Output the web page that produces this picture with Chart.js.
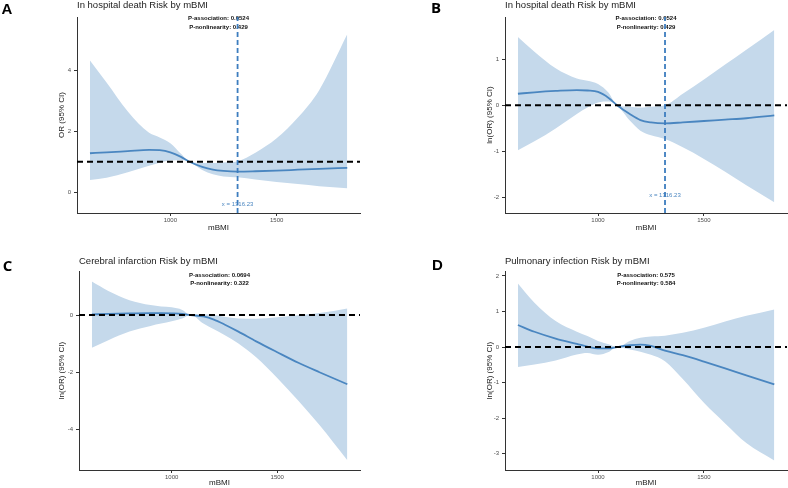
<!DOCTYPE html>
<html>
<head>
<meta charset="utf-8">
<script src="https://cdn.jsdelivr.net/npm/chart.js@4.4.1/dist/chart.umd.min.js"></script>
<style>
  body { margin: 0; background: #fff; }
  .panel { position: absolute; width: 394px; height: 244px; }
</style>
</head>
<body>
<div class="panel" style="left:0;top:0"><canvas id="chartA" width="394" height="244"></canvas></div>
<div class="panel" style="left:394px;top:0"><canvas id="chartB" width="394" height="244"></canvas></div>
<div class="panel" style="left:0;top:244px"><canvas id="chartC" width="394" height="244"></canvas></div>
<div class="panel" style="left:394px;top:244px"><canvas id="chartD" width="394" height="244"></canvas></div>
<script>
// shared x grid (mBMI)
const mbmi = [622, 700, 800, 900, 950, 1000, 1050, 1090, 1150, 1200, 1250, 1316, 1400, 1500, 1600, 1700, 1832];
const xTicks = [1000, 1500];
const xMin = 561;
const xMax = 1892;
const cutX = 1316.23;

// A : in hospital death, OR scale
const estA = [1.28, 1.31, 1.35, 1.39, 1.38, 1.31, 1.16, 1.0, 0.83, 0.74, 0.70, 0.68, 0.69, 0.71, 0.74, 0.77, 0.80];
const upA  = [4.32, 3.60, 2.65, 1.95, 1.80, 1.61, 1.26, 1.0, 0.96, 0.96, 0.98, 1.02, 1.30, 1.77, 2.45, 3.35, 5.18];
const lowA = [0.40, 0.48, 0.66, 0.87, 0.97, 1.04, 1.05, 1.0, 0.73, 0.59, 0.52, 0.49, 0.42, 0.34, 0.27, 0.20, 0.13];
const yTicksA = [0, 2, 4];

// B : in hospital death, ln(OR)
const estB = [0.25, 0.28, 0.31, 0.33, 0.32, 0.29, 0.16, 0, -0.19, -0.32, -0.37, -0.39, -0.37, -0.34, -0.31, -0.28, -0.22];
const upB  = [1.48, 1.16, 0.80, 0.58, 0.53, 0.46, 0.27, 0, -0.03, -0.05, -0.03, 0.0, 0.25, 0.56, 0.88, 1.20, 1.63];
const lowB = [-0.97, -0.78, -0.50, -0.19, -0.05, 0.06, 0.08, 0, -0.33, -0.55, -0.65, -0.73, -0.91, -1.16, -1.44, -1.73, -2.10];
const yTicksB = [-2, -1, 0, 1];

// C : cerebral infarction, ln(OR)
const estC = [0.02, 0.04, 0.06, 0.07, 0.07, 0.06, 0.04, 0, -0.05, -0.16, -0.33, -0.58, -0.92, -1.30, -1.67, -2.00, -2.42];
const upC  = [1.17, 0.84, 0.52, 0.35, 0.30, 0.27, 0.18, 0, 0.03, 0.0, -0.06, -0.12, -0.13, -0.08, -0.01, 0.07, 0.23];
const lowC = [-1.14, -0.88, -0.58, -0.38, -0.30, -0.22, -0.12, 0, -0.30, -0.50, -0.70, -1.00, -1.48, -2.20, -3.00, -3.85, -5.08];
const yTicksC = [-4, -2, 0];

// D : pulmonary infection, ln(OR)
const estD = [0.62, 0.43, 0.24, 0.09, 0.01, -0.04, -0.04, 0, 0.05, 0.07, 0.03, -0.10, -0.23, -0.41, -0.60, -0.80, -1.05];
const upD  = [1.79, 1.25, 0.73, 0.43, 0.31, 0.17, 0.08, 0, 0.17, 0.26, 0.30, 0.32, 0.40, 0.54, 0.72, 0.88, 1.06];
const lowD = [-0.56, -0.49, -0.38, -0.21, -0.17, -0.22, -0.14, 0, -0.07, -0.13, -0.22, -0.40, -0.90, -1.57, -2.15, -2.70, -3.19];
const yTicksD = [-3, -2, -1, 0, 1, 2];

const bandColor = '#c5d9eb';
const lineBlue = '#4a86c0';
const fam = '"Liberation Sans", Arial, sans-serif';

Chart.defaults.font.family = fam;

function pts(ys) {
  return mbmi.map((x, i) => ({ x: x, y: ys[i] }));
}

// titles, panel letters, p-values, cut label
const panelText = {
  id: 'panelText',
  beforeDatasetsDraw(chart, args, o) {
    const { ctx, chartArea: a, scales } = chart;
    ctx.save();
    ctx.fillStyle = '#111';
    ctx.textAlign = 'center';
    ctx.textBaseline = 'middle';
    ctx.font = 'bold 6px ' + fam;
    const cx = (a.left + a.right) / 2;
    ctx.fillText(o.pAssoc, cx, a.top + o.pY[0]);
    ctx.fillText(o.pNonlin, cx, a.top + o.pY[1]);
    if (o.cutLabelY !== null) {
      ctx.fillStyle = lineBlue;
      ctx.font = '6px ' + fam;
      ctx.fillText('x = ' + cutX, scales.x.getPixelForValue(cutX), scales.y.getPixelForValue(o.cutLabelY));
    }
    ctx.restore();
  },
  afterDraw(chart, args, o) {
    const { ctx, chartArea: a } = chart;
    ctx.save();
    ctx.fillStyle = '#000';
    ctx.textAlign = 'center';
    ctx.textBaseline = 'middle';
    ctx.font = 'bold 15px ' + o.letterFont;
    ctx.fillText(o.letter, o.letterX, o.letterY);
    ctx.textAlign = 'left';
    ctx.fillStyle = '#222';
    ctx.font = '9.5px ' + fam;
    ctx.fillText(o.title, a.left, o.titleY);
    ctx.restore();
  }
};

function makeChart(id, p) {
  const datasets = [
    { data: pts(p.upper), fill: '+1', backgroundColor: bandColor, borderWidth: 0, pointRadius: 0, cubicInterpolationMode: 'monotone', order: 5 },
    { data: pts(p.lower), fill: false, borderWidth: 0, pointRadius: 0, cubicInterpolationMode: 'monotone', order: 5 },
    { data: pts(p.est), fill: false, borderColor: lineBlue, borderWidth: 1.8, pointRadius: 0, cubicInterpolationMode: 'monotone', order: 3 },
    { data: [{ x: xMin, y: p.ref }, { x: xMax, y: p.ref }], fill: false, borderColor: '#000', borderWidth: 2, borderDash: [6, 4], pointRadius: 0, order: 2 }
  ];
  if (p.cut) {
    datasets.push({ data: [{ x: cutX, y: p.yMin }, { x: cutX, y: p.yMax }], fill: false, borderColor: '#3d7dbf', borderWidth: 1.8, borderDash: [5, 3], pointRadius: 0, order: 1 });
  }

  return new Chart(document.getElementById(id), {
    type: 'line',
    data: { datasets: datasets },
    plugins: [panelText],
    options: {
      responsive: false,
      animation: false,
      events: [],
      layout: { padding: p.pad },
      plugins: {
        legend: { display: false },
        tooltip: { enabled: false },
        panelText: {
          letter: p.letter, letterX: p.letterX, letterY: p.letterY, letterFont: p.letterFont,
          title: p.title, titleY: p.titleY,
          pAssoc: p.pAssoc, pNonlin: p.pNonlin, pY: p.pY,
          cutLabelY: p.cut ? p.cutLabelY : null
        }
      },
      scales: {
        x: {
          type: 'linear',
          min: xMin,
          max: xMax,
          afterBuildTicks: s => { s.ticks = xTicks.map(v => ({ value: v })); },
          afterFit: s => { s.height = p.xHeight; },
          grid: { drawOnChartArea: false, drawTicks: true, tickLength: 3, color: '#333' },
          border: { color: '#333', width: 1 },
          ticks: { font: { size: 6 }, color: '#4d4d4d', padding: 1, maxRotation: 0, autoSkip: false, callback: v => String(v) },
          title: { display: true, text: 'mBMI', font: { size: 8 }, color: '#1a1a1a', padding: { top: 0, bottom: p.xTitlePad } }
        },
        y: {
          type: 'linear',
          min: p.yMin,
          max: p.yMax,
          afterBuildTicks: s => { s.ticks = p.yTicks.map(v => ({ value: v })); },
          afterFit: s => { s.width = p.yWidth; },
          grid: { drawOnChartArea: false, drawTicks: true, tickLength: 3, color: '#333' },
          border: { color: '#333', width: 1 },
          ticks: { font: { size: 6 }, color: '#4d4d4d', padding: 3, autoSkip: false, callback: v => String(v) },
          title: { display: true, text: p.yTitle, font: { size: 8 }, color: '#1a1a1a', padding: { top: 0, bottom: 0 } }
        }
      }
    }
  });
}

makeChart('chartA', {
  est: estA, upper: upA, lower: lowA, ref: 1, cut: true, cutLabelY: -0.4,
  yMin: -0.68, yMax: 5.75, yTicks: yTicksA, yTitle: 'OR (95% CI)',
  pad: { left: 57, right: 34, top: 17, bottom: 0 }, yWidth: 20, xHeight: 31, xTitlePad: 11,
  letter: 'A', letterX: 7, letterY: 10, letterFont: fam,
  title: 'In hospital death Risk by mBMI', titleY: 5,
  pAssoc: 'P-association: 0.0524', pNonlin: 'P-nonlinearity: 0.429', pY: [1.5, 10.5]
});

makeChart('chartB', {
  est: estB, upper: upB, lower: lowB, ref: 0, cut: true, cutLabelY: -1.94,
  yMin: -2.33, yMax: 1.91, yTicks: yTicksB, yTitle: 'ln(OR) (95% CI)',
  pad: { left: 91, right: 1, top: 17, bottom: 0 }, yWidth: 20, xHeight: 31, xTitlePad: 11,
  letter: 'B', letterX: 42, letterY: 9, letterFont: '"Open Sans", sans-serif',
  title: 'In hospital death Risk by mBMI', titleY: 5,
  pAssoc: 'P-association: 0.0524', pNonlin: 'P-nonlinearity: 0.429', pY: [1.5, 10.5]
});

makeChart('chartC', {
  est: estC, upper: upC, lower: lowC, ref: 0, cut: false,
  yMin: -5.42, yMax: 1.54, yTicks: yTicksC, yTitle: 'ln(OR) (95% CI)',
  pad: { left: 57, right: 34, top: 27, bottom: 0 }, yWidth: 22, xHeight: 18, xTitlePad: 0,
  letter: 'C', letterX: 7.5, letterY: 22.5, letterFont: '"Open Sans", sans-serif',
  title: 'Cerebral infarction Risk by mBMI', titleY: 17,
  pAssoc: 'P-association: 0.0694', pNonlin: 'P-nonlinearity: 0.322', pY: [4, 12.6]
});

makeChart('chartD', {
  est: estD, upper: upD, lower: lowD, ref: 0, cut: false,
  yMin: -3.46, yMax: 2.14, yTicks: yTicksD, yTitle: 'ln(OR) (95% CI)',
  pad: { left: 91, right: 1, top: 27, bottom: 0 }, yWidth: 20, xHeight: 18, xTitlePad: 0,
  letter: 'D', letterX: 43.5, letterY: 22, letterFont: fam,
  title: 'Pulmonary infection Risk by mBMI', titleY: 17,
  pAssoc: 'P-association: 0.575', pNonlin: 'P-nonlinearity: 0.584', pY: [4, 12.6]
});
</script>
</body>
</html>
